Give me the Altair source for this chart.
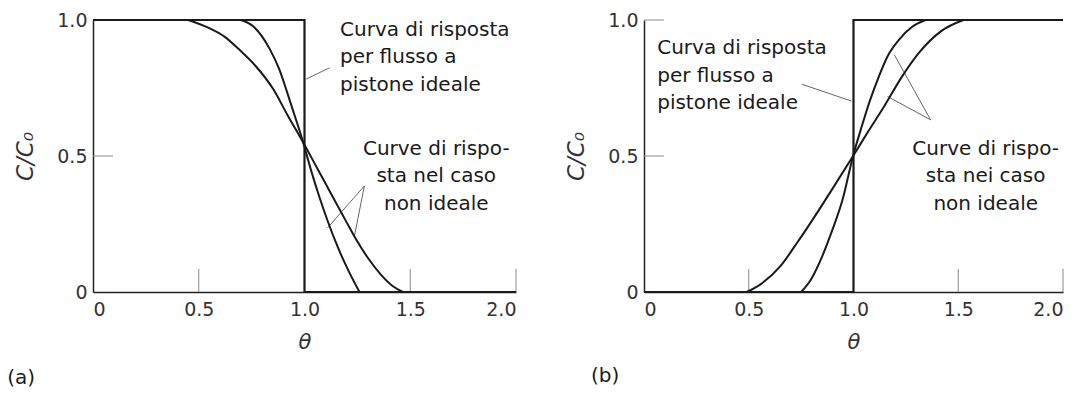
import altair as alt
import pandas as pd

FONT = "DejaVu Sans"
INK = "#1a1a1a"
GREY = "#8a8a8a"

# axis ticks (θ and C/C0)
x_ticks = [0.0, 0.5, 1.0, 1.5, 2.0]
y_ticks = [0.0, 0.5, 1.0]

# ---- (a) response to a step decrease ----
a_ideal_theta = [0.0, 1.0, 1.0, 2.0]
a_ideal_c = [1.0, 1.0, 0.0, 0.0]

a_narrow_theta = [0.70, 0.76, 0.836, 0.88, 0.918, 0.955, 0.99, 1.03, 1.07, 1.11, 1.16, 1.21, 1.26]
a_narrow_c = [1.0, 0.975, 0.893, 0.82, 0.734, 0.645, 0.56, 0.45, 0.35, 0.26, 0.16, 0.075, 0.0]

a_wide_theta = [0.45, 0.55, 0.62, 0.689, 0.77, 0.852, 0.92, 0.99, 1.06, 1.13, 1.20, 1.243, 1.30, 1.36, 1.42, 1.465]
a_wide_c = [1.0, 0.97, 0.94, 0.893, 0.83, 0.746, 0.65, 0.555, 0.455, 0.355, 0.255, 0.195, 0.125, 0.065, 0.02, 0.0]

# ---- (b) response to a step increase ----
b_ideal_theta = [0.0, 1.0, 1.0, 2.0]
b_ideal_c = [0.0, 0.0, 1.0, 1.0]

b_narrow_theta = [0.75, 0.80, 0.85, 0.90, 0.948, 0.998, 1.04, 1.08, 1.12, 1.162, 1.22, 1.28, 1.344]
b_narrow_c = [0.0, 0.05, 0.13, 0.23, 0.34, 0.50, 0.61, 0.707, 0.79, 0.866, 0.93, 0.975, 1.0]

b_wide_theta = [0.49, 0.56, 0.651, 0.73, 0.816, 0.90, 0.998, 1.07, 1.146, 1.23, 1.311, 1.42, 1.525]
b_wide_c = [0.0, 0.03, 0.095, 0.18, 0.279, 0.38, 0.50, 0.59, 0.682, 0.79, 0.878, 0.96, 1.0]

# annotation texts
ideal_text = "Curva di risposta\nper flusso a\npistone ideale"
a_nonideal_text = "Curve di rispo-\nsta nel caso\nnon ideale"
b_nonideal_text = "Curve di rispo-\nsta nei caso\nnon ideale"

TICK_LEN_X = 0.085   # inward tick length on the θ axis (in C/C0 units)
TICK_LEN_Y = 0.095   # inward tick length on the C/C0 axis (in θ units)

x_scale = alt.Scale(domain=[0, 2], nice=False, zero=False)
y_scale = alt.Scale(domain=[0, 1], nice=False, zero=False)
label_expr = "datum.value == 0 ? '0' : format(datum.value, '.1f')"


def lines_frame(series):
    rows = []
    for name, ts, cs in series:
        for i, (t, c) in enumerate(zip(ts, cs)):
            rows.append({"serie": name, "i": i, "theta": t, "c": c})
    return pd.DataFrame(rows)


def panel(ideal_t, ideal_c, curves, ideal_pos, nonideal_text, nonideal_pos,
          leaders, letter, letter_pos, width, y_tick_vals):
    x_enc = alt.X("theta:Q", scale=x_scale,
                  axis=alt.Axis(values=x_ticks, labelExpr=label_expr, title="θ"))
    y_enc = alt.Y("c:Q", scale=y_scale,
                  axis=alt.Axis(values=y_ticks, labelExpr=label_expr, title="C/C₀"))

    ideal = alt.Chart(lines_frame([("ideale", ideal_t, ideal_c)])).mark_line(
        color=INK, strokeWidth=2.2, interpolate="linear"
    ).encode(x=x_enc, y=y_enc, order=alt.Order("i:Q"))

    real = alt.Chart(lines_frame(curves)).mark_line(
        color=INK, strokeWidth=2.0, interpolate="monotone"
    ).encode(x="theta:Q", y="c:Q", detail="serie:N", order=alt.Order("i:Q"))

    xt = pd.DataFrame({"theta": [v for v in x_ticks if v > 0]})
    xt["c0"] = 0.0
    xt["c1"] = TICK_LEN_X
    x_tick_marks = alt.Chart(xt).mark_rule(color=GREY, strokeWidth=1).encode(
        x="theta:Q", y="c0:Q", y2="c1:Q")

    yt = pd.DataFrame({"c": y_tick_vals})
    yt["t0"] = 0.0
    yt["t1"] = TICK_LEN_Y
    y_tick_marks = alt.Chart(yt).mark_rule(color=GREY, strokeWidth=1).encode(
        y="c:Q", x="t0:Q", x2="t1:Q")

    lead = pd.DataFrame(leaders, columns=["t0", "c0", "t1", "c1"])
    leader_marks = alt.Chart(lead).mark_rule(color="#666", strokeWidth=1).encode(
        x="t0:Q", y="c0:Q", x2="t1:Q", y2="c1:Q")

    txt_style = dict(font=FONT, fontSize=20, color=INK, lineHeight=27.5,
                     baseline="alphabetic")
    ideal_lbl = alt.Chart(pd.DataFrame({"theta": [ideal_pos[0]], "c": [ideal_pos[1]],
                                        "txt": [ideal_text]})).mark_text(
        align="left", lineBreak="\n", **txt_style
    ).encode(x="theta:Q", y="c:Q", text="txt:N")

    nonideal_lbl = alt.Chart(pd.DataFrame({"theta": [nonideal_pos[0]], "c": [nonideal_pos[1]],
                                           "txt": [nonideal_text]})).mark_text(
        align="center", lineBreak="\n", **txt_style
    ).encode(x="theta:Q", y="c:Q", text="txt:N")

    letter_lbl = alt.Chart(pd.DataFrame({"theta": [letter_pos[0]], "c": [letter_pos[1]],
                                         "txt": [letter]})).mark_text(
        align="left", baseline="middle", font=FONT, fontSize=20, color=INK
    ).encode(x="theta:Q", y="c:Q", text="txt:N")

    return alt.layer(
        x_tick_marks, y_tick_marks, leader_marks, ideal, real,
        ideal_lbl, nonideal_lbl, letter_lbl
    ).properties(width=width, height=272)


panel_a = panel(
    a_ideal_theta, a_ideal_c,
    [("stretta", a_narrow_theta, a_narrow_c), ("larga", a_wide_theta, a_wide_c)],
    (1.168, 0.942), a_nonideal_text, (1.623, 0.504),
    [(1.008, 0.783, 1.118, 0.824),
     (1.283, 0.39, 1.108, 0.235),
     (1.283, 0.39, 1.236, 0.205)],
    "(a)", (-0.406, -0.316), 423, [0.5],
)

panel_b = panel(
    b_ideal_theta, b_ideal_c,
    [("stretta", b_narrow_theta, b_narrow_c), ("larga", b_wide_theta, b_wide_c)],
    (0.063, 0.875), b_nonideal_text, (1.631, 0.505),
    [(0.753, 0.764, 0.99, 0.702),
     (1.368, 0.633, 1.195, 0.872),
     (1.368, 0.633, 1.162, 0.719)],
    "(b)", (-0.253, -0.31), 419, [0.5, 1.0],
)

chart = alt.hconcat(panel_a, panel_b, spacing=128, bounds="flush").properties(
    padding={"left": 7, "top": 11, "right": 4, "bottom": 2},
    background="white",
).configure_view(stroke=None).configure_axis(
    grid=False,
    ticks=False,
    domainColor="#222",
    domainWidth=1.5,
    labelFont=FONT,
    labelFontSize=19,
    labelColor="#333",
    titleFont=FONT,
    titleFontStyle="italic",
    titleFontWeight="normal",
    titleColor="#333",
).configure_axisY(
    labelPadding=6, titlePadding=19, titleFontSize=23,
).configure_axisX(
    labelPadding=8, titlePadding=12, titleFontSize=21,
)

chart.save("out.html", embed_options={"renderer": "svg", "actions": False})
